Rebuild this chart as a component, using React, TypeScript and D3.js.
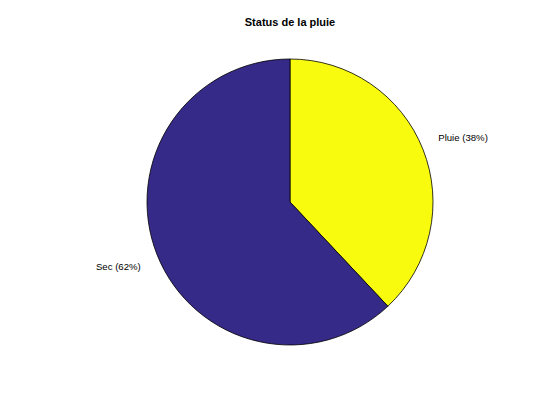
import React, { useRef, useEffect } from "react";
import * as d3 from "d3";

const categories = ["Pluie", "Sec"];
const values = [38, 62];
const colors = ["#f9fb0e", "#352a87"];

const App = () => {
  const svgRef = useRef<SVGSVGElement>(null);
  const width = 560;
  const height = 420;

  useEffect(() => {
    const svg = d3.select(svgRef.current);
    svg.selectAll("*").remove();

    const cx = 290;
    const cy = 202;
    const r = 143;

    svg
      .append("text")
      .attr("x", cx)
      .attr("y", 26)
      .attr("text-anchor", "middle")
      .attr("font-family", "Liberation Sans, Arial, sans-serif")
      .attr("font-size", 11)
      .attr("font-weight", "bold")
      .attr("fill", "#000")
      .text("Status de la pluie");

    const pie = d3
      .pie<number>()
      .sort(null)
      .value((d) => d);
    const arcs = pie(values);
    const arc = d3.arc<d3.PieArcDatum<number>>().innerRadius(0).outerRadius(r);

    const g = svg.append("g").attr("transform", `translate(${cx},${cy})`);

    g.selectAll("path")
      .data(arcs)
      .join("path")
      .attr("d", arc)
      .attr("fill", (d, i) => colors[i])
      .attr("stroke", "#000")
      .attr("stroke-width", 0.8);

    g.selectAll("text")
      .data(arcs)
      .join("text")
      .attr("x", (d) => {
        const a = (d.startAngle + d.endAngle) / 2;
        return Math.sin(a) * r * 1.1 + (Math.sin(a) > 0 ? 2 : -3);
      })
      .attr("y", (d) => {
        const a = (d.startAngle + d.endAngle) / 2;
        return -Math.cos(a) * r * 1.1 + (Math.sin(a) > 0 ? -6 : 7);
      })
      .attr("dy", "0.35em")
      .attr("text-anchor", (d) =>
        Math.sin((d.startAngle + d.endAngle) / 2) > 0 ? "start" : "end"
      )
      .attr("font-family", "Liberation Sans, Arial, sans-serif")
      .attr("font-size", 9.6)
      .attr("fill", "#000")
      .text((d, i) => `${categories[i]} (${values[i]}%)`);
  }, []);

  return (
    <div style={{ margin: -8 }}>
      <svg ref={svgRef} width={width} height={height} style={{ display: "block", background: "#fff" }}></svg>
    </div>
  );
};

export default App;
